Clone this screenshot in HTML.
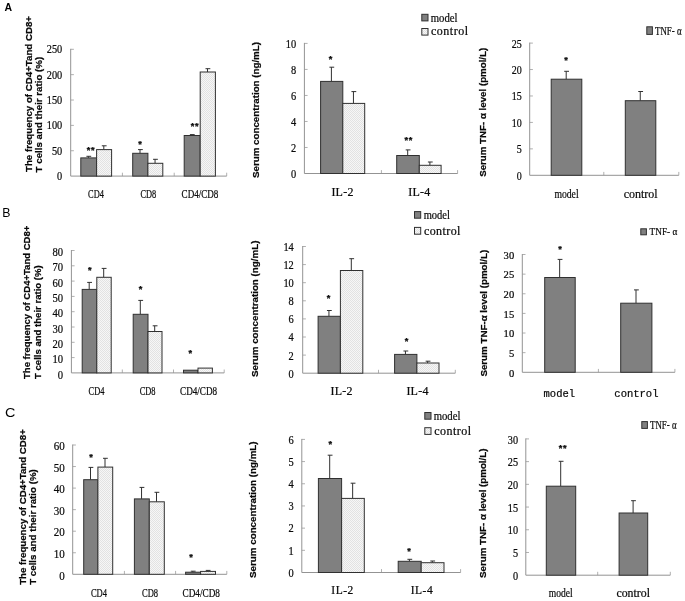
<!DOCTYPE html>
<html><head><meta charset="utf-8"><title>Figure</title>
<style>
html,body{margin:0;padding:0;background:#fff;}
svg{display:block;will-change:transform;}
</style></head><body>
<svg width="685" height="601" viewBox="0 0 685 601">
<defs>
<pattern id="dots" width="2" height="2" patternUnits="userSpaceOnUse">
<rect width="2" height="2" fill="#f6f6f6"/>
<rect width="1" height="1" fill="#e2e2e2"/>
<rect x="1" y="1" width="1" height="1" fill="#e2e2e2"/>
</pattern>
</defs>
<rect width="685" height="601" fill="#fff"/>
<text x="4.6" y="10.8" font-family="Liberation Sans, sans-serif" font-weight="bold" font-size="10" textLength="7.6" lengthAdjust="spacingAndGlyphs" fill="#000">A</text>
<text x="2.3" y="217.2" font-family="Liberation Sans, sans-serif" font-size="12.3" fill="#000">B</text>
<text x="4.9" y="417.4" font-family="Liberation Sans, sans-serif" font-size="12.2" textLength="10.4" lengthAdjust="spacingAndGlyphs" fill="#000">C</text>
<!-- chart A1 -->
<path d="M70.7 150.74h3.2M70.7 125.38h3.2M70.7 100.02h3.2M70.7 74.66h3.2M70.7 49.3h3.2M122.4 176.1v-3.4M174.2 176.1v-3.4M226.7 176.1v-3.4" stroke="#b0b0b0" stroke-width="1" fill="none"/>
<path d="M70.7 48.8V176.1H226.7" stroke="#939393" stroke-width="1" fill="none"/>
<g font-family="Liberation Serif, Noto Serif CJK SC, serif" fill="#0a0a0a" stroke="#0a0a0a" stroke-width="0.22">
<text x="57.05" y="180.1" font-size="12" textLength="5.15" lengthAdjust="spacingAndGlyphs">0</text>
<text x="51.9" y="154.74" font-size="12" textLength="10.3" lengthAdjust="spacingAndGlyphs">50</text>
<text x="46.75" y="129.38" font-size="12" textLength="15.45" lengthAdjust="spacingAndGlyphs">100</text>
<text x="46.75" y="104.02" font-size="12" textLength="15.45" lengthAdjust="spacingAndGlyphs">150</text>
<text x="46.75" y="78.66" font-size="12" textLength="15.45" lengthAdjust="spacingAndGlyphs">200</text>
<text x="46.75" y="53.3" font-size="12" textLength="15.45" lengthAdjust="spacingAndGlyphs">250</text>
<text x="88.12" y="197.9" font-size="12" textLength="15.75" lengthAdjust="spacingAndGlyphs">CD4</text>
<text x="140.53" y="197.9" font-size="12" textLength="15.75" lengthAdjust="spacingAndGlyphs">CD8</text>
<text x="181.62" y="197.9" font-size="12" textLength="36.75" lengthAdjust="spacingAndGlyphs">CD4/CD8</text>
</g>
<path d="M88.4 157.9V156.3M86.4 156.3h4.8" stroke="#303030" stroke-width="1" fill="none"/>
<rect x="80.8" y="157.9" width="15.8" height="18.2" fill="#808080" stroke="#303030" stroke-width="1"/>
<path d="M103.8 149.6V145.8M101.8 145.8h4.8" stroke="#303030" stroke-width="1" fill="none"/>
<rect x="96.6" y="149.6" width="15" height="26.5" fill="url(#dots)" stroke="#303030" stroke-width="1"/>
<path d="M140 153.3V149.6M138 149.6h4.8" stroke="#303030" stroke-width="1" fill="none"/>
<rect x="132.7" y="153.3" width="15.2" height="22.8" fill="#808080" stroke="#303030" stroke-width="1"/>
<path d="M155.05 163.3V159.3M153.05 159.3h4.8" stroke="#303030" stroke-width="1" fill="none"/>
<rect x="147.9" y="163.3" width="14.9" height="12.8" fill="url(#dots)" stroke="#303030" stroke-width="1"/>
<path d="M191.9 135.5V134.6M189.9 134.6h4.8" stroke="#303030" stroke-width="1" fill="none"/>
<rect x="184.2" y="135.5" width="16" height="40.6" fill="#808080" stroke="#303030" stroke-width="1"/>
<path d="M207.5 72V68.7M205.5 68.7h4.8" stroke="#303030" stroke-width="1" fill="none"/>
<rect x="200.2" y="72" width="15.2" height="104.1" fill="url(#dots)" stroke="#303030" stroke-width="1"/>
<g font-family="Liberation Sans, sans-serif" font-weight="bold" font-size="9.2" text-anchor="middle" fill="#0a0a0a" stroke="#0a0a0a" stroke-width="0.25" letter-spacing="0.7">
<text x="91.1" y="153.4">**</text>
<text x="140.4" y="146.8">*</text>
<text x="195" y="129.4">**</text>
</g>
<text transform="translate(31.6 172) rotate(-90)" font-family="Liberation Sans, sans-serif" font-weight="bold" font-size="9.8" textLength="156" lengthAdjust="spacingAndGlyphs" fill="#080808" stroke="#080808" stroke-width="0.22">The frequency of CD4+Tand CD8+</text>
<text transform="translate(42.1 172.4) rotate(-90)" font-family="Liberation Sans, sans-serif" font-weight="bold" font-size="9.8" textLength="115.6" lengthAdjust="spacingAndGlyphs" fill="#080808" stroke="#080808" stroke-width="0.22">T cells and their ratio (%)</text>
<!-- chart A2 -->
<path d="M304.4 147.48h3.2M304.4 121.46h3.2M304.4 95.44h3.2M304.4 69.42h3.2M304.4 43.4h3.2M381.4 173.5v-3.4M457.6 173.5v-3.4" stroke="#b0b0b0" stroke-width="1" fill="none"/>
<path d="M304.4 42.9V173.5H457.6" stroke="#939393" stroke-width="1" fill="none"/>
<g font-family="Liberation Serif, Noto Serif CJK SC, serif" fill="#0a0a0a" stroke="#0a0a0a" stroke-width="0.22">
<text x="291" y="178.1" font-size="12" textLength="5.2" lengthAdjust="spacingAndGlyphs">0</text>
<text x="291" y="152.08" font-size="12" textLength="5.2" lengthAdjust="spacingAndGlyphs">2</text>
<text x="291" y="126.06" font-size="12" textLength="5.2" lengthAdjust="spacingAndGlyphs">4</text>
<text x="291" y="100.04" font-size="12" textLength="5.2" lengthAdjust="spacingAndGlyphs">6</text>
<text x="291" y="74.02" font-size="12" textLength="5.2" lengthAdjust="spacingAndGlyphs">8</text>
<text x="285.8" y="48" font-size="12" textLength="10.4" lengthAdjust="spacingAndGlyphs">10</text>
<text x="331.4" y="195.9" font-size="12" textLength="22" lengthAdjust="spacing">IL-2</text>
<text x="408.3" y="195.9" font-size="12" textLength="22" lengthAdjust="spacing">IL-4</text>
</g>
<path d="M331.4 81.4V67.2M329.4 67.2h4.8" stroke="#303030" stroke-width="1" fill="none"/>
<rect x="320.6" y="81.4" width="22.2" height="92.1" fill="#808080" stroke="#303030" stroke-width="1"/>
<path d="M353.45 103.4V91.6M351.45 91.6h4.8" stroke="#303030" stroke-width="1" fill="none"/>
<rect x="342.8" y="103.4" width="21.9" height="70.1" fill="url(#dots)" stroke="#303030" stroke-width="1"/>
<path d="M407.7 155.5V149.9M405.7 149.9h4.8" stroke="#303030" stroke-width="1" fill="none"/>
<rect x="396.7" y="155.5" width="22.6" height="18" fill="#808080" stroke="#303030" stroke-width="1"/>
<path d="M429.9 165.3V162M427.9 162h4.8" stroke="#303030" stroke-width="1" fill="none"/>
<rect x="419.3" y="165.3" width="21.8" height="8.2" fill="url(#dots)" stroke="#303030" stroke-width="1"/>
<g font-family="Liberation Sans, sans-serif" font-weight="bold" font-size="9.2" text-anchor="middle" fill="#0a0a0a" stroke="#0a0a0a" stroke-width="0.25" letter-spacing="0.7">
<text x="330.8" y="61.5">*</text>
<text x="408.7" y="143">**</text>
</g>
<rect x="421.8" y="14.3" width="6.2" height="6.6" fill="#808080" stroke="#303030" stroke-width="1"/>
<g font-family="Liberation Serif, Noto Serif CJK SC, serif" fill="#0a0a0a" stroke="#0a0a0a" stroke-width="0.22"><text x="430.8" y="21.6" font-size="12" textLength="26.75" lengthAdjust="spacingAndGlyphs">model</text></g>
<rect x="421.8" y="28.5" width="6.2" height="6.6" fill="url(#dots)" stroke="#303030" stroke-width="1"/>
<g font-family="Liberation Serif, Noto Serif CJK SC, serif" fill="#0a0a0a" stroke="#0a0a0a" stroke-width="0.22"><text x="431" y="35.3" font-size="12" textLength="37.1" lengthAdjust="spacing">control</text></g>
<text transform="translate(258.8 178) rotate(-90)" font-family="Liberation Sans, sans-serif" font-weight="bold" font-size="9.8" textLength="136" lengthAdjust="spacingAndGlyphs" fill="#080808" stroke="#080808" stroke-width="0.22">Serum concentration (ng/mL)</text>
<!-- chart A3 -->
<path d="M529.7 148.86h3.2M529.7 122.42h3.2M529.7 95.98h3.2M529.7 69.54h3.2M529.7 43.1h3.2M603.8 175.3v-3.4M678.8 175.3v-3.4" stroke="#b0b0b0" stroke-width="1" fill="none"/>
<path d="M529.7 42.6V175.3H678.8" stroke="#939393" stroke-width="1" fill="none"/>
<g font-family="Liberation Serif, Noto Serif CJK SC, serif" fill="#0a0a0a" stroke="#0a0a0a" stroke-width="0.22">
<text x="516.8" y="179.7" font-size="12" textLength="5" lengthAdjust="spacingAndGlyphs">0</text>
<text x="516.8" y="153.26" font-size="12" textLength="5" lengthAdjust="spacingAndGlyphs">5</text>
<text x="511.8" y="126.82" font-size="12" textLength="10" lengthAdjust="spacingAndGlyphs">10</text>
<text x="511.8" y="100.38" font-size="12" textLength="10" lengthAdjust="spacingAndGlyphs">15</text>
<text x="511.8" y="73.94" font-size="12" textLength="10" lengthAdjust="spacingAndGlyphs">20</text>
<text x="511.8" y="47.5" font-size="12" textLength="10" lengthAdjust="spacingAndGlyphs">25</text>
<text x="554.38" y="198.1" font-size="13.5" textLength="24.25" lengthAdjust="spacingAndGlyphs">model</text>
<text x="623.73" y="198.1" font-size="13.5" textLength="33.95" lengthAdjust="spacingAndGlyphs">control</text>
</g>
<path d="M566.2 79.2V71.3M564.2 71.3h4.8" stroke="#303030" stroke-width="1" fill="none"/>
<rect x="551.2" y="79.2" width="30.6" height="96.1" fill="#808080" stroke="#303030" stroke-width="1"/>
<path d="M640.25 100.7V91.5M638.25 91.5h4.8" stroke="#303030" stroke-width="1" fill="none"/>
<rect x="625.3" y="100.7" width="30.5" height="74.6" fill="#808080" stroke="#303030" stroke-width="1"/>
<g font-family="Liberation Sans, sans-serif" font-weight="bold" font-size="9.2" text-anchor="middle" fill="#0a0a0a" stroke="#0a0a0a" stroke-width="0.25" letter-spacing="0.7">
<text x="566.4" y="62.8">*</text>
</g>
<rect x="646.8" y="26.8" width="5.6" height="7.6" fill="#808080" stroke="#303030" stroke-width="1"/>
<g font-family="Liberation Serif, Noto Serif CJK SC, serif" fill="#0a0a0a" stroke="#0a0a0a" stroke-width="0.22"><text x="655" y="34.6" font-size="12.5" textLength="26.52" lengthAdjust="spacingAndGlyphs">TNF- α</text></g>
<text transform="translate(486.1 176.8) rotate(-90)" font-family="Liberation Sans, sans-serif" font-weight="bold" font-size="9.8" textLength="129" lengthAdjust="spacingAndGlyphs" fill="#080808" stroke="#080808" stroke-width="0.22">Serum TNF- α level (pmol/L)</text>
<!-- chart B1 -->
<path d="M71.4 357.6h3.2M71.4 342.3h3.2M71.4 327h3.2M71.4 311.7h3.2M71.4 296.4h3.2M71.4 281.1h3.2M71.4 265.8h3.2M71.4 250.5h3.2M122.3 372.9v-3.4M173.5 372.9v-3.4M224.2 372.9v-3.4" stroke="#b0b0b0" stroke-width="1" fill="none"/>
<path d="M71.4 250V372.9H224.2" stroke="#939393" stroke-width="1" fill="none"/>
<g font-family="Liberation Serif, Noto Serif CJK SC, serif" fill="#0a0a0a" stroke="#0a0a0a" stroke-width="0.22">
<text x="57.7" y="378.5" font-size="12" textLength="5.3" lengthAdjust="spacingAndGlyphs">0</text>
<text x="52.4" y="363.2" font-size="12" textLength="10.6" lengthAdjust="spacingAndGlyphs">10</text>
<text x="52.4" y="347.9" font-size="12" textLength="10.6" lengthAdjust="spacingAndGlyphs">20</text>
<text x="52.4" y="332.6" font-size="12" textLength="10.6" lengthAdjust="spacingAndGlyphs">30</text>
<text x="52.4" y="317.3" font-size="12" textLength="10.6" lengthAdjust="spacingAndGlyphs">40</text>
<text x="52.4" y="302" font-size="12" textLength="10.6" lengthAdjust="spacingAndGlyphs">50</text>
<text x="52.4" y="286.7" font-size="12" textLength="10.6" lengthAdjust="spacingAndGlyphs">60</text>
<text x="52.4" y="271.4" font-size="12" textLength="10.6" lengthAdjust="spacingAndGlyphs">70</text>
<text x="52.4" y="256.1" font-size="12" textLength="10.6" lengthAdjust="spacingAndGlyphs">80</text>
<text x="88.55" y="394.9" font-size="12" textLength="15.9" lengthAdjust="spacingAndGlyphs">CD4</text>
<text x="139.65" y="394.9" font-size="12" textLength="15.9" lengthAdjust="spacingAndGlyphs">CD8</text>
<text x="180.05" y="394.9" font-size="12" textLength="37.1" lengthAdjust="spacingAndGlyphs">CD4/CD8</text>
</g>
<path d="M89.2 289.4V282.4M87.2 282.4h4.8" stroke="#303030" stroke-width="1" fill="none"/>
<rect x="82.2" y="289.4" width="14.6" height="83.5" fill="#808080" stroke="#303030" stroke-width="1"/>
<path d="M103.7 277.3V268.4M101.7 268.4h4.8" stroke="#303030" stroke-width="1" fill="none"/>
<rect x="96.8" y="277.3" width="14.4" height="95.6" fill="url(#dots)" stroke="#303030" stroke-width="1"/>
<path d="M140.3 314.3V300.4M138.3 300.4h4.8" stroke="#303030" stroke-width="1" fill="none"/>
<rect x="133.2" y="314.3" width="14.8" height="58.6" fill="#808080" stroke="#303030" stroke-width="1"/>
<path d="M154.7 331.5V325.8M152.7 325.8h4.8" stroke="#303030" stroke-width="1" fill="none"/>
<rect x="148" y="331.5" width="14" height="41.4" fill="url(#dots)" stroke="#303030" stroke-width="1"/>
<rect x="183.5" y="370.2" width="14.5" height="2.7" fill="#808080" stroke="#303030" stroke-width="1"/>
<rect x="198" y="368.1" width="14.4" height="4.8" fill="url(#dots)" stroke="#303030" stroke-width="1"/>
<g font-family="Liberation Sans, sans-serif" font-weight="bold" font-size="9.2" text-anchor="middle" fill="#0a0a0a" stroke="#0a0a0a" stroke-width="0.25" letter-spacing="0.7">
<text x="90.1" y="273.2">*</text>
<text x="140.9" y="291.6">*</text>
<text x="190.6" y="356.3">*</text>
</g>
<text transform="translate(29.7 379) rotate(-90)" font-family="Liberation Sans, sans-serif" font-weight="bold" font-size="9.8" textLength="153.3" lengthAdjust="spacingAndGlyphs" fill="#080808" stroke="#080808" stroke-width="0.22">The frequency of CD4+Tand CD8+</text>
<text transform="translate(40.7 379) rotate(-90)" font-family="Liberation Sans, sans-serif" font-weight="bold" font-size="9.8" textLength="113.7" lengthAdjust="spacingAndGlyphs" fill="#080808" stroke="#080808" stroke-width="0.22">T cells and their ratio (%)</text>
<!-- chart B2 -->
<path d="M302.7 355.1h3.2M302.7 337h3.2M302.7 318.9h3.2M302.7 300.8h3.2M302.7 282.7h3.2M302.7 264.6h3.2M302.7 246.5h3.2M378.5 373.2v-3.4M455.3 373.2v-3.4" stroke="#b0b0b0" stroke-width="1" fill="none"/>
<path d="M302.7 246V373.2H455.3" stroke="#939393" stroke-width="1" fill="none"/>
<g font-family="Liberation Serif, Noto Serif CJK SC, serif" fill="#0a0a0a" stroke="#0a0a0a" stroke-width="0.22">
<text x="288.6" y="377.6" font-size="12" textLength="5.2" lengthAdjust="spacingAndGlyphs">0</text>
<text x="288.6" y="359.5" font-size="12" textLength="5.2" lengthAdjust="spacingAndGlyphs">2</text>
<text x="288.6" y="341.4" font-size="12" textLength="5.2" lengthAdjust="spacingAndGlyphs">4</text>
<text x="288.6" y="323.3" font-size="12" textLength="5.2" lengthAdjust="spacingAndGlyphs">6</text>
<text x="288.6" y="305.2" font-size="12" textLength="5.2" lengthAdjust="spacingAndGlyphs">8</text>
<text x="283.4" y="287.1" font-size="12" textLength="10.4" lengthAdjust="spacingAndGlyphs">10</text>
<text x="283.4" y="269" font-size="12" textLength="10.4" lengthAdjust="spacingAndGlyphs">12</text>
<text x="283.4" y="250.9" font-size="12" textLength="10.4" lengthAdjust="spacingAndGlyphs">14</text>
<text x="330.5" y="395.1" font-size="12" textLength="22" lengthAdjust="spacing">IL-2</text>
<text x="406.4" y="395.1" font-size="12" textLength="22" lengthAdjust="spacing">IL-4</text>
</g>
<path d="M328.95 316.3V310.5M326.95 310.5h4.8" stroke="#303030" stroke-width="1" fill="none"/>
<rect x="318.1" y="316.3" width="22.3" height="56.9" fill="#808080" stroke="#303030" stroke-width="1"/>
<path d="M351.3 270.5V258.7M349.3 258.7h4.8" stroke="#303030" stroke-width="1" fill="none"/>
<rect x="340.4" y="270.5" width="22.4" height="102.7" fill="url(#dots)" stroke="#303030" stroke-width="1"/>
<path d="M405.45 354.4V351M403.45 351h4.8" stroke="#303030" stroke-width="1" fill="none"/>
<rect x="394.6" y="354.4" width="22.3" height="18.8" fill="#808080" stroke="#303030" stroke-width="1"/>
<path d="M427.65 363V361.2M425.65 361.2h4.8" stroke="#303030" stroke-width="1" fill="none"/>
<rect x="416.9" y="363" width="22.1" height="10.2" fill="url(#dots)" stroke="#303030" stroke-width="1"/>
<g font-family="Liberation Sans, sans-serif" font-weight="bold" font-size="9.2" text-anchor="middle" fill="#0a0a0a" stroke="#0a0a0a" stroke-width="0.25" letter-spacing="0.7">
<text x="329" y="300.6">*</text>
<text x="407" y="343.6">*</text>
</g>
<rect x="414.5" y="211.6" width="6.2" height="6.6" fill="#808080" stroke="#303030" stroke-width="1"/>
<g font-family="Liberation Serif, Noto Serif CJK SC, serif" fill="#0a0a0a" stroke="#0a0a0a" stroke-width="0.22"><text x="423.7" y="218.7" font-size="12" textLength="26.25" lengthAdjust="spacingAndGlyphs">model</text></g>
<rect x="414.5" y="227.4" width="6.2" height="6.8" fill="url(#dots)" stroke="#303030" stroke-width="1"/>
<g font-family="Liberation Serif, Noto Serif CJK SC, serif" fill="#0a0a0a" stroke="#0a0a0a" stroke-width="0.22"><text x="423.9" y="234.7" font-size="12" textLength="36.54" lengthAdjust="spacing">control</text></g>
<text transform="translate(258.2 377) rotate(-90)" font-family="Liberation Sans, sans-serif" font-weight="bold" font-size="9.8" textLength="136.4" lengthAdjust="spacingAndGlyphs" fill="#080808" stroke="#080808" stroke-width="0.22">Serum concentration (ng/mL)</text>
<!-- chart B3 -->
<path d="M522.3 352.67h3.2M522.3 333.03h3.2M522.3 313.4h3.2M522.3 293.77h3.2M522.3 274.13h3.2M522.3 254.5h3.2M598.4 372.3v-3.4M674.9 372.3v-3.4" stroke="#b0b0b0" stroke-width="1" fill="none"/>
<path d="M522.3 254V372.3H674.9" stroke="#939393" stroke-width="1" fill="none"/>
<g font-family="Liberation Serif, Noto Serif CJK SC, serif" fill="#0a0a0a" stroke="#0a0a0a" stroke-width="0.22">
<text x="508.9" y="376.6" font-size="10.6" textLength="5.3" lengthAdjust="spacingAndGlyphs">0</text>
<text x="508.9" y="356.97" font-size="10.6" textLength="5.3" lengthAdjust="spacingAndGlyphs">5</text>
<text x="503.6" y="337.33" font-size="10.6" textLength="10.6" lengthAdjust="spacingAndGlyphs">10</text>
<text x="503.6" y="317.7" font-size="10.6" textLength="10.6" lengthAdjust="spacingAndGlyphs">15</text>
<text x="503.6" y="298.07" font-size="10.6" textLength="10.6" lengthAdjust="spacingAndGlyphs">20</text>
<text x="503.6" y="278.43" font-size="10.6" textLength="10.6" lengthAdjust="spacingAndGlyphs">25</text>
<text x="503.6" y="258.8" font-size="10.6" textLength="10.6" lengthAdjust="spacingAndGlyphs">30</text>
<text x="543.55" y="396.6" font-size="10.5" font-family="Liberation Mono, monospace" textLength="31.5" lengthAdjust="spacingAndGlyphs">model</text>
<text x="614.35" y="396.6" font-size="10.5" font-family="Liberation Mono, monospace" textLength="44.1" lengthAdjust="spacingAndGlyphs">control</text>
</g>
<path d="M559.65 277.5V259.4M557.65 259.4h4.8" stroke="#303030" stroke-width="1" fill="none"/>
<rect x="544.7" y="277.5" width="30.5" height="94.8" fill="#808080" stroke="#303030" stroke-width="1"/>
<path d="M636 303.2V289.9M634 289.9h4.8" stroke="#303030" stroke-width="1" fill="none"/>
<rect x="620.7" y="303.2" width="31.2" height="69.1" fill="#808080" stroke="#303030" stroke-width="1"/>
<g font-family="Liberation Sans, sans-serif" font-weight="bold" font-size="9.2" text-anchor="middle" fill="#0a0a0a" stroke="#0a0a0a" stroke-width="0.25" letter-spacing="0.7">
<text x="560.3" y="252.3">*</text>
</g>
<rect x="640.8" y="228.8" width="5.6" height="6" fill="#808080" stroke="#303030" stroke-width="1"/>
<g font-family="Liberation Serif, Noto Serif CJK SC, serif" fill="#0a0a0a" stroke="#0a0a0a" stroke-width="0.22"><text x="649.6" y="235" font-size="11.3" textLength="27.72" lengthAdjust="spacingAndGlyphs">TNF- α</text></g>
<text transform="translate(486.5 376.6) rotate(-90)" font-family="Liberation Sans, sans-serif" font-weight="bold" font-size="9.8" textLength="126.8" lengthAdjust="spacingAndGlyphs" fill="#080808" stroke="#080808" stroke-width="0.22">Serum TNF-α level (pmol/L)</text>
<!-- chart C1 -->
<path d="M72.7 552.75h3.2M72.7 531.2h3.2M72.7 509.65h3.2M72.7 488.1h3.2M72.7 466.55h3.2M72.7 445h3.2M124.4 574.3v-3.4M175.6 574.3v-3.4M226.8 574.3v-3.4" stroke="#b0b0b0" stroke-width="1" fill="none"/>
<path d="M72.7 444.5V574.3H226.8" stroke="#939393" stroke-width="1" fill="none"/>
<g font-family="Liberation Serif, Noto Serif CJK SC, serif" fill="#0a0a0a" stroke="#0a0a0a" stroke-width="0.22">
<text x="59.3" y="579.5" font-size="12" textLength="5.5" lengthAdjust="spacingAndGlyphs">0</text>
<text x="53.8" y="557.95" font-size="12" textLength="11" lengthAdjust="spacingAndGlyphs">10</text>
<text x="53.8" y="536.4" font-size="12" textLength="11" lengthAdjust="spacingAndGlyphs">20</text>
<text x="53.8" y="514.85" font-size="12" textLength="11" lengthAdjust="spacingAndGlyphs">30</text>
<text x="53.8" y="493.3" font-size="12" textLength="11" lengthAdjust="spacingAndGlyphs">40</text>
<text x="53.8" y="471.75" font-size="12" textLength="11" lengthAdjust="spacingAndGlyphs">50</text>
<text x="53.8" y="450.2" font-size="12" textLength="11" lengthAdjust="spacingAndGlyphs">60</text>
<text x="90.88" y="596.9" font-size="12" textLength="16.05" lengthAdjust="spacingAndGlyphs">CD4</text>
<text x="141.97" y="596.9" font-size="12" textLength="16.05" lengthAdjust="spacingAndGlyphs">CD8</text>
<text x="182.47" y="596.9" font-size="12" textLength="37.45" lengthAdjust="spacingAndGlyphs">CD4/CD8</text>
</g>
<path d="M90.5 479.7V467.4M88.5 467.4h4.8" stroke="#303030" stroke-width="1" fill="none"/>
<rect x="83.7" y="479.7" width="14.2" height="94.6" fill="#808080" stroke="#303030" stroke-width="1"/>
<path d="M105 467.1V458.3M103 458.3h4.8" stroke="#303030" stroke-width="1" fill="none"/>
<rect x="97.9" y="467.1" width="14.8" height="107.2" fill="url(#dots)" stroke="#303030" stroke-width="1"/>
<path d="M141.55 498.9V487.4M139.55 487.4h4.8" stroke="#303030" stroke-width="1" fill="none"/>
<rect x="134.4" y="498.9" width="14.9" height="75.4" fill="#808080" stroke="#303030" stroke-width="1"/>
<path d="M156.5 501.8V492.3M154.5 492.3h4.8" stroke="#303030" stroke-width="1" fill="none"/>
<rect x="149.3" y="501.8" width="15" height="72.5" fill="url(#dots)" stroke="#303030" stroke-width="1"/>
<path d="M192.8 572.2V571.2M190.8 571.2h4.8" stroke="#303030" stroke-width="1" fill="none"/>
<rect x="185.6" y="572.2" width="15" height="2.1" fill="#808080" stroke="#303030" stroke-width="1"/>
<path d="M207.75 571.4V570.4M205.75 570.4h4.8" stroke="#303030" stroke-width="1" fill="none"/>
<rect x="200.6" y="571.4" width="14.9" height="2.9" fill="url(#dots)" stroke="#303030" stroke-width="1"/>
<g font-family="Liberation Sans, sans-serif" font-weight="bold" font-size="9.2" text-anchor="middle" fill="#0a0a0a" stroke="#0a0a0a" stroke-width="0.25" letter-spacing="0.7">
<text x="91.5" y="460.4">*</text>
<text x="191.4" y="560">*</text>
</g>
<text transform="translate(25.7 584.8) rotate(-90)" font-family="Liberation Sans, sans-serif" font-weight="bold" font-size="9.8" textLength="155.6" lengthAdjust="spacingAndGlyphs" fill="#080808" stroke="#080808" stroke-width="0.22">The frequency of CD4+Tand CD8+</text>
<text transform="translate(36.3 584.8) rotate(-90)" font-family="Liberation Sans, sans-serif" font-weight="bold" font-size="9.8" textLength="115.6" lengthAdjust="spacingAndGlyphs" fill="#080808" stroke="#080808" stroke-width="0.22">T cells and their ratio (%)</text>
<!-- chart C2 -->
<path d="M301.8 550.32h3.2M301.8 528.13h3.2M301.8 505.95h3.2M301.8 483.77h3.2M301.8 461.58h3.2M301.8 439.4h3.2M381.5 572.5v-3.4M460.6 572.5v-3.4" stroke="#b0b0b0" stroke-width="1" fill="none"/>
<path d="M301.8 438.9V572.5H460.6" stroke="#939393" stroke-width="1" fill="none"/>
<g font-family="Liberation Serif, Noto Serif CJK SC, serif" fill="#0a0a0a" stroke="#0a0a0a" stroke-width="0.22">
<text x="288.6" y="576.8" font-size="11.5" textLength="5.2" lengthAdjust="spacingAndGlyphs">0</text>
<text x="288.6" y="554.62" font-size="11.5" textLength="5.2" lengthAdjust="spacingAndGlyphs">1</text>
<text x="288.6" y="532.43" font-size="11.5" textLength="5.2" lengthAdjust="spacingAndGlyphs">2</text>
<text x="288.6" y="510.25" font-size="11.5" textLength="5.2" lengthAdjust="spacingAndGlyphs">3</text>
<text x="288.6" y="488.07" font-size="11.5" textLength="5.2" lengthAdjust="spacingAndGlyphs">4</text>
<text x="288.6" y="465.88" font-size="11.5" textLength="5.2" lengthAdjust="spacingAndGlyphs">5</text>
<text x="288.6" y="443.7" font-size="11.5" textLength="5.2" lengthAdjust="spacingAndGlyphs">6</text>
<text x="331.3" y="594" font-size="11.5" textLength="22" lengthAdjust="spacing">IL-2</text>
<text x="410.7" y="594" font-size="11.5" textLength="22" lengthAdjust="spacing">IL-4</text>
</g>
<path d="M329.7 478.5V455.2M327.7 455.2h4.8" stroke="#303030" stroke-width="1" fill="none"/>
<rect x="318.4" y="478.5" width="23.2" height="94" fill="#808080" stroke="#303030" stroke-width="1"/>
<path d="M352.65 498.4V483.2M350.65 483.2h4.8" stroke="#303030" stroke-width="1" fill="none"/>
<rect x="341.6" y="498.4" width="22.7" height="74.1" fill="url(#dots)" stroke="#303030" stroke-width="1"/>
<path d="M409.4 561.3V559.3M407.4 559.3h4.8" stroke="#303030" stroke-width="1" fill="none"/>
<rect x="398.2" y="561.3" width="23" height="11.2" fill="#808080" stroke="#303030" stroke-width="1"/>
<path d="M432.3 562.7V561M430.3 561h4.8" stroke="#303030" stroke-width="1" fill="none"/>
<rect x="421.2" y="562.7" width="22.8" height="9.8" fill="url(#dots)" stroke="#303030" stroke-width="1"/>
<g font-family="Liberation Sans, sans-serif" font-weight="bold" font-size="9.2" text-anchor="middle" fill="#0a0a0a" stroke="#0a0a0a" stroke-width="0.25" letter-spacing="0.7">
<text x="330.6" y="447.2">*</text>
<text x="409.3" y="554">*</text>
</g>
<rect x="424.8" y="412.5" width="6.2" height="6.7" fill="#808080" stroke="#303030" stroke-width="1"/>
<g font-family="Liberation Serif, Noto Serif CJK SC, serif" fill="#0a0a0a" stroke="#0a0a0a" stroke-width="0.22"><text x="433.7" y="419.6" font-size="12" textLength="26.75" lengthAdjust="spacingAndGlyphs">model</text></g>
<rect x="424.8" y="427.7" width="6.2" height="6.7" fill="url(#dots)" stroke="#303030" stroke-width="1"/>
<g font-family="Liberation Serif, Noto Serif CJK SC, serif" fill="#0a0a0a" stroke="#0a0a0a" stroke-width="0.22"><text x="434.2" y="434.8" font-size="12" textLength="36.96" lengthAdjust="spacing">control</text></g>
<text transform="translate(256.3 578) rotate(-90)" font-family="Liberation Sans, sans-serif" font-weight="bold" font-size="9.8" textLength="136.6" lengthAdjust="spacingAndGlyphs" fill="#080808" stroke="#080808" stroke-width="0.22">Serum concentration (ng/mL)</text>
<!-- chart C3 -->
<path d="M525.8 552.48h3.2M525.8 529.77h3.2M525.8 507.05h3.2M525.8 484.33h3.2M525.8 461.62h3.2M525.8 438.9h3.2M597.7 575.2v-3.4M670.3 575.2v-3.4" stroke="#b0b0b0" stroke-width="1" fill="none"/>
<path d="M525.8 438.4V575.2H670.3" stroke="#939393" stroke-width="1" fill="none"/>
<g font-family="Liberation Serif, Noto Serif CJK SC, serif" fill="#0a0a0a" stroke="#0a0a0a" stroke-width="0.22">
<text x="512.9" y="579.8" font-size="11.6" textLength="5.1" lengthAdjust="spacingAndGlyphs">0</text>
<text x="512.9" y="557.08" font-size="11.6" textLength="5.1" lengthAdjust="spacingAndGlyphs">5</text>
<text x="507.8" y="534.37" font-size="11.6" textLength="10.2" lengthAdjust="spacingAndGlyphs">10</text>
<text x="507.8" y="511.65" font-size="11.6" textLength="10.2" lengthAdjust="spacingAndGlyphs">15</text>
<text x="507.8" y="488.93" font-size="11.6" textLength="10.2" lengthAdjust="spacingAndGlyphs">20</text>
<text x="507.8" y="466.22" font-size="11.6" textLength="10.2" lengthAdjust="spacingAndGlyphs">25</text>
<text x="507.8" y="443.5" font-size="11.6" textLength="10.2" lengthAdjust="spacingAndGlyphs">30</text>
<text x="548.85" y="596.7" font-size="12" textLength="23.9" lengthAdjust="spacingAndGlyphs">model</text>
<text x="616.47" y="596.7" font-size="12" textLength="33.46" lengthAdjust="spacingAndGlyphs">control</text>
</g>
<path d="M560.7 486.2V461.3M558.7 461.3h4.8" stroke="#303030" stroke-width="1" fill="none"/>
<rect x="546.3" y="486.2" width="29.4" height="89" fill="#808080" stroke="#303030" stroke-width="1"/>
<path d="M633.1 513V500.7M631.1 500.7h4.8" stroke="#303030" stroke-width="1" fill="none"/>
<rect x="619.1" y="513" width="28.6" height="62.2" fill="#808080" stroke="#303030" stroke-width="1"/>
<g font-family="Liberation Sans, sans-serif" font-weight="bold" font-size="9.2" text-anchor="middle" fill="#0a0a0a" stroke="#0a0a0a" stroke-width="0.25" letter-spacing="0.7">
<text x="563" y="450.6">**</text>
</g>
<rect x="641.8" y="421.6" width="5.6" height="6.8" fill="#808080" stroke="#303030" stroke-width="1"/>
<g font-family="Liberation Serif, Noto Serif CJK SC, serif" fill="#0a0a0a" stroke="#0a0a0a" stroke-width="0.22"><text x="650" y="428.8" font-size="12" textLength="26.52" lengthAdjust="spacingAndGlyphs">TNF- α</text></g>
<text transform="translate(486 578) rotate(-90)" font-family="Liberation Sans, sans-serif" font-weight="bold" font-size="9.8" textLength="129.5" lengthAdjust="spacingAndGlyphs" fill="#080808" stroke="#080808" stroke-width="0.22">Serum TNF- α level (pmol/L)</text>
</svg>
</body></html>
